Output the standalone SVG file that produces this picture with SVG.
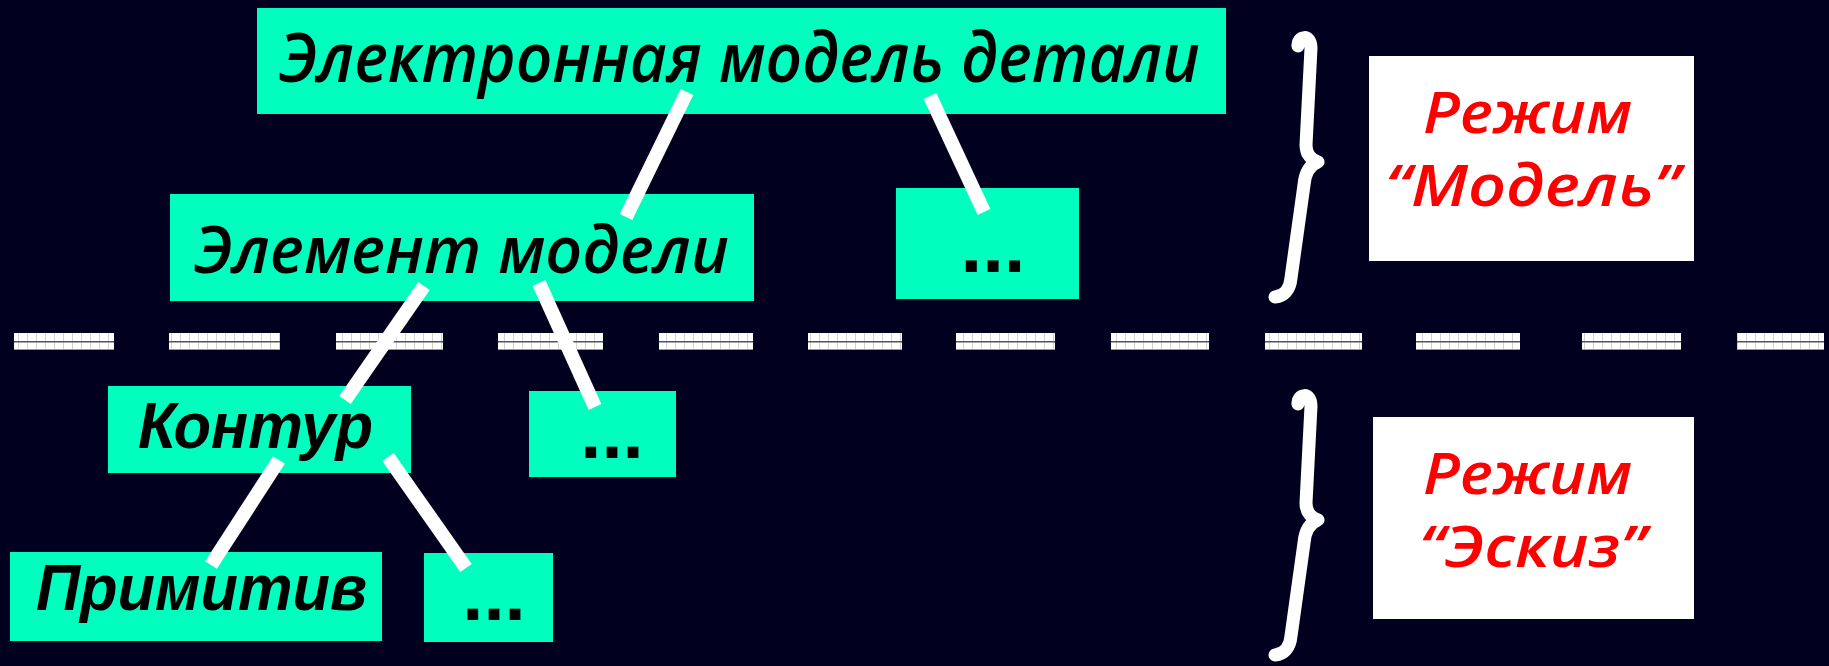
<svg xmlns="http://www.w3.org/2000/svg" width="1829" height="666" viewBox="0 0 1829 666">
<style>
.bg{fill:#02001f}
.box{fill:#00ffbf}
.wbox{fill:#ffffff}
.t{font-family:"Open Sans","Noto Sans","DejaVu Sans",sans-serif;font-style:italic;font-weight:600;fill:#000000}
.t2{font-family:"Liberation Sans","Arial",sans-serif;font-style:italic;font-weight:bold;fill:#000000}
.dots{font-family:"Liberation Sans","Arial",sans-serif;font-weight:bold;fill:#000000;text-anchor:middle}
.red{font-family:"Open Sans","Noto Sans","DejaVu Sans",sans-serif;font-style:italic;font-weight:600;fill:#ff0000}
.conn line{stroke:#ffffff;stroke-width:14;stroke-linecap:butt}
.brace{fill:none;stroke:#ffffff;stroke-width:13;stroke-linecap:round;stroke-linejoin:round}
.dash{fill:url(#dashpat)}
</style>
<defs>
<pattern id="dashpat" x="0" y="333" width="9" height="17" patternUnits="userSpaceOnUse">
<rect x="0" y="0" width="9" height="17" fill="#ffffff"/>
<rect x="0" y="0" width="0.8" height="17" fill="#c8c8c8"/>
<rect x="0" y="8" width="9" height="1.5" fill="#555555"/>
<rect x="0" y="16" width="9" height="1" fill="#999999"/>
</pattern>
</defs>
<rect class="bg" x="0" y="0" width="1829" height="666"/>

<g id="separator">
<rect class="dash" x="14" y="333" width="100" height="17"/>
<rect class="dash" x="169" y="333" width="111" height="17"/>
<rect class="dash" x="336" y="333" width="107" height="17"/>
<rect class="dash" x="498" y="333" width="105" height="17"/>
<rect class="dash" x="659" y="333" width="94" height="17"/>
<rect class="dash" x="808" y="333" width="94" height="17"/>
<rect class="dash" x="956" y="333" width="99" height="17"/>
<rect class="dash" x="1111" y="333" width="98" height="17"/>
<rect class="dash" x="1265" y="333" width="97" height="17"/>
<rect class="dash" x="1416" y="333" width="104" height="17"/>
<rect class="dash" x="1582" y="333" width="99" height="17"/>
<rect class="dash" x="1737" y="333" width="87" height="17"/>
</g>

<g id="n-model">
<rect class="box" x="257" y="8" width="969" height="106"/>
<text class="t" x="279" y="82" font-size="69" textLength="921" lengthAdjust="spacingAndGlyphs">Электронная модель детали</text>
</g>
<g id="n-element">
<rect class="box" x="170" y="194" width="584" height="107"/>
<text class="t" x="194" y="273" font-size="65" textLength="535" lengthAdjust="spacingAndGlyphs">Элемент модели</text>
</g>
<g id="n-dots1">
<rect class="box" x="896" y="188" width="183" height="111"/>
<text class="dots" x="993" y="272" font-size="78">...</text>
</g>
<g id="n-kontur">
<rect class="box" x="108" y="386" width="303" height="87"/>
<text class="t2" x="138" y="448" font-size="64" textLength="235" lengthAdjust="spacingAndGlyphs">Контур</text>
</g>
<g id="n-dots2">
<rect class="box" x="529" y="391" width="147" height="86"/>
<text class="dots" x="612" y="458" font-size="76">...</text>
</g>
<g id="n-primitiv">
<rect class="box" x="10" y="552" width="372" height="89"/>
<text class="t2" x="36" y="610" font-size="64" textLength="331" lengthAdjust="spacingAndGlyphs">Примитив</text>
</g>
<g id="n-dots3">
<rect class="box" x="424" y="553" width="129" height="89"/>
<text class="dots" x="494" y="620" font-size="76">...</text>
</g>

<g id="connectors" class="conn">
<line x1="687" y1="92" x2="626" y2="217"/>
<line x1="930" y1="96" x2="984" y2="212"/>
<line x1="424" y1="286" x2="345" y2="400"/>
<line x1="539" y1="283" x2="595" y2="407"/>
<line x1="279" y1="460" x2="211" y2="565"/>
<line x1="388" y1="457" x2="466" y2="568"/>
</g>

<g id="brace-model">
<path class="brace" d="M1298,46 C1297,36 1311,33 1311,48 L1306,145 C1306,155 1312,160 1318,162 C1310,165 1305,172 1304,185 L1291,278 C1290,290 1284,296 1275,297"/>
</g>
<g id="brace-sketch">
<path class="brace" transform="translate(0,358)" d="M1298,46 C1297,36 1311,33 1311,48 L1306,145 C1306,155 1312,160 1318,162 C1310,165 1305,172 1304,185 L1291,278 C1290,290 1284,296 1275,297"/>
</g>

<g id="mode-model">
<rect class="wbox" x="1369" y="56" width="325" height="205"/>
<text class="red" x="1423" y="133" font-size="57" textLength="209" lengthAdjust="spacingAndGlyphs">Режим</text>
<text class="red" x="1385" y="206" font-size="57" textLength="295" lengthAdjust="spacingAndGlyphs">“Модель”</text>
</g>
<g id="mode-sketch">
<rect class="wbox" x="1373" y="417" width="321" height="202"/>
<text class="red" x="1423" y="494" font-size="57" textLength="209" lengthAdjust="spacingAndGlyphs">Режим</text>
<text class="red" x="1419" y="567" font-size="57" textLength="227" lengthAdjust="spacingAndGlyphs">“Эскиз”</text>
</g>
</svg>
